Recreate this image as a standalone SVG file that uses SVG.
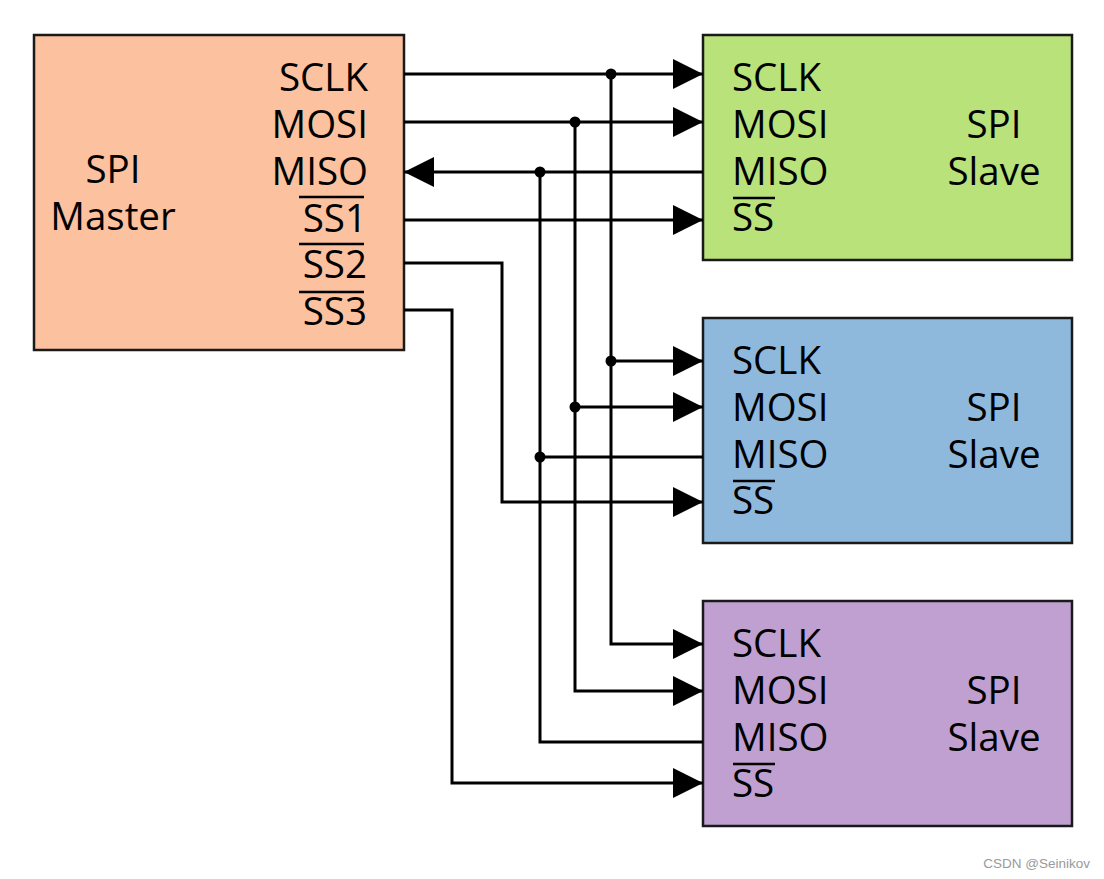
<svg xmlns="http://www.w3.org/2000/svg" width="1104" height="879" viewBox="0 0 1104 879">
<defs>
<marker id="arr" viewBox="0 0 30 30" refX="30" refY="15" markerWidth="30" markerHeight="30" markerUnits="userSpaceOnUse" orient="auto">
<path d="M0,0 L30,15 L0,30 Z" fill="#000"/>
</marker>
<style>
.box{stroke:#1a1a1a;stroke-width:2.5}
.t{font-family:"Open Sans","Noto Sans","DejaVu Sans",sans-serif;font-size:38.5px;fill:#000}
.e{text-anchor:end}
.m{text-anchor:middle}
.ov{stroke:#000;stroke-width:2.5}
.w{fill:none;stroke:#000;stroke-width:3}
.dot{fill:#000}
</style>
</defs>
<rect width="1104" height="879" fill="#fff"/>

<g id="master">
<rect class="box" x="34" y="35" width="370" height="315" fill="#FCC19E"/>
<text class="t m" x="113" y="183">SPI</text>
<text class="t m" x="113" y="230">Master</text>
<text class="t e" x="368" y="91">SCLK</text>
<text class="t e" x="368" y="138">MOSI</text>
<text class="t e" x="368" y="185">MISO</text>
<text class="t e" x="367" y="232">SS1</text>
<line class="ov" x1="299" y1="197" x2="364" y2="197"/>
<text class="t e" x="367" y="278">SS2</text>
<line class="ov" x1="299" y1="244" x2="364" y2="244"/>
<text class="t e" x="367" y="325">SS3</text>
<line class="ov" x1="299" y1="292" x2="364" y2="292"/>
</g>

<g id="slave1">
<rect class="box" x="703" y="35" width="369" height="225" fill="#B9E27B"/>
<text class="t" x="732" y="91">SCLK</text>
<text class="t" x="732" y="138">MOSI</text>
<text class="t" x="732" y="185">MISO</text>
<text class="t" x="732" y="231">SS</text>
<line class="ov" x1="733" y1="198" x2="775" y2="198"/>
<text class="t m" x="994" y="138">SPI</text>
<text class="t m" x="994" y="185">Slave</text>
</g>

<g id="slave2">
<rect class="box" x="703" y="318" width="369" height="225" fill="#8EB9DD"/>
<text class="t" x="732" y="374">SCLK</text>
<text class="t" x="732" y="421">MOSI</text>
<text class="t" x="732" y="468">MISO</text>
<text class="t" x="732" y="514">SS</text>
<line class="ov" x1="733" y1="481" x2="775" y2="481"/>
<text class="t m" x="994" y="421">SPI</text>
<text class="t m" x="994" y="468">Slave</text>
</g>

<g id="slave3">
<rect class="box" x="703" y="601" width="369" height="225" fill="#BFA0D0"/>
<text class="t" x="732" y="657">SCLK</text>
<text class="t" x="732" y="704">MOSI</text>
<text class="t" x="732" y="751">MISO</text>
<text class="t" x="732" y="797">SS</text>
<line class="ov" x1="733" y1="764" x2="775" y2="764"/>
<text class="t m" x="994" y="704">SPI</text>
<text class="t m" x="994" y="751">Slave</text>
</g>

<g id="connectors">
<path class="w" d="M404,74 H703" marker-end="url(#arr)"/>
<path class="w" d="M611,361 H703" marker-end="url(#arr)"/>
<path class="w" d="M611,74 V644 H703" marker-end="url(#arr)"/>
<path class="w" d="M404,122 H703" marker-end="url(#arr)"/>
<path class="w" d="M575,407 H703" marker-end="url(#arr)"/>
<path class="w" d="M575,122 V691 H703" marker-end="url(#arr)"/>
<path class="w" d="M703,172 H404" marker-end="url(#arr)"/>
<path class="w" d="M703,457 H540"/>
<path class="w" d="M703,742 H540 V172"/>
<path class="w" d="M404,220 H703" marker-end="url(#arr)"/>
<path class="w" d="M404,263 H502 V502 H703" marker-end="url(#arr)"/>
<path class="w" d="M404,310 H452 V783 H703" marker-end="url(#arr)"/>
<circle class="dot" cx="611" cy="74" r="5.5"/>
<circle class="dot" cx="575" cy="122" r="5.5"/>
<circle class="dot" cx="540" cy="172" r="5.5"/>
<circle class="dot" cx="611" cy="361" r="5.5"/>
<circle class="dot" cx="575" cy="407" r="5.5"/>
<circle class="dot" cx="540" cy="457" r="5.5"/>
</g>

<text x="1090" y="868" text-anchor="end" font-family="'Liberation Sans',Arial,sans-serif" font-size="13.5" fill="#9a9a9a">CSDN @Seinikov</text>
</svg>
